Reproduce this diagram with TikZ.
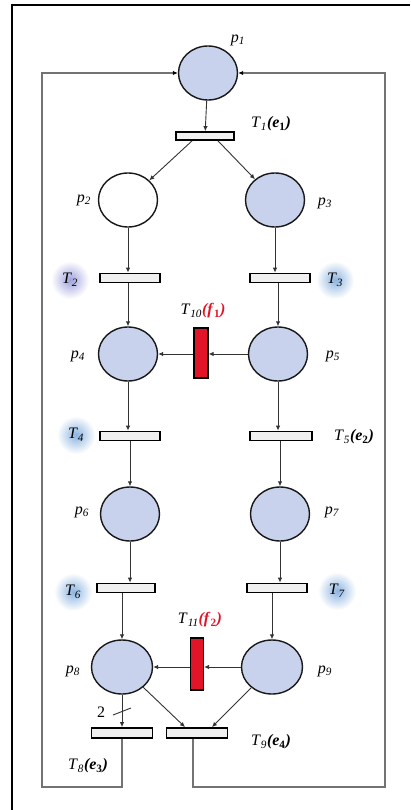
\documentclass[tikz,border=0pt]{standalone}
\usepackage{fontspec}
\setmainfont{Liberation Serif}
\usetikzlibrary{shapes.geometric,arrows.meta}
\definecolor{placefill}{RGB}{200,210,236}
\definecolor{blobA}{RGB}{160,162,220}
\definecolor{blobB}{RGB}{140,180,225}
\definecolor{faultred}{RGB}{225,20,40}
\definecolor{loopgray}{RGB}{115,115,115}
\newcommand{\tl}[2]{\textit{T}\textsubscript{\textit{#1}}\textbf{\textit{(e}\textsubscript{#2}\textit{)}}}
\newcommand{\tf}[2]{\textit{T}\textsubscript{\textit{#1}}\textcolor{faultred}{\textbf{\textit{(f}\textsubscript{#2}\textit{)}}}}
\newcommand{\pl}[1]{\textit{p}\textsubscript{\textit{#1}}}
\begin{document}
\begin{tikzpicture}[x=1pt,y=-1pt,
  place/.style={ellipse,draw=black!90,line width=1.4pt,fill=placefill,minimum width=59pt,minimum height=54pt,inner sep=0pt},
  emptyplace/.style={place,fill=white},
  trans/.style={rectangle,draw=black,line width=1.8pt,fill=black!6,minimum width=60pt,minimum height=9pt,inner sep=0pt},
  fault/.style={rectangle,draw=black,line width=1.3pt,fill=faultred,minimum width=13pt,minimum height=51pt,inner sep=0pt},
  arc/.style={draw=black!80,line width=0.9pt,-{Latex[length=5pt,width=4.5pt]}},
  loopline/.style={draw=loopgray,line width=1.6pt,-{Latex[black,length=5pt,width=4.5pt]}},
  lbl/.style={font=\fontsize{16}{18}\selectfont,inner sep=0pt},
  blob/.style={circle,minimum size=36pt,inner sep=0pt}]
\useasboundingbox (0,0) rectangle (410,810);
\fill[white] (0,0) rectangle (410,810);
% outer frame
\draw[black,line width=2pt] (12,810) -- (12,5) -- (410,5);

% places
\node[place] (p1) at (208,73) {};
\node[emptyplace] (p2) at (128,200) {};
\node[place] (p3) at (275,200) {};
\node[place] (p4) at (128,354) {};
\node[place] (p5) at (278,354) {};
\node[place] (p6) at (130,514) {};
\node[place] (p7) at (280,514) {};
\node[place,minimum width=61pt] (p8) at (122,667) {};
\node[place,minimum width=61pt] (p9) at (272,667) {};

% transitions
\node[trans,minimum width=58pt,minimum height=8pt] (T1) at (205,136) {};
\node[trans] (T2) at (130,278) {};
\node[trans] (T3) at (280,278) {};
\node[trans] (T4) at (130,436) {};
\node[trans,minimum width=62pt] (T5) at (281,436) {};
\node[trans,minimum width=58pt] (T6) at (126,588) {};
\node[trans] (T7) at (277,588) {};
\node[trans,minimum width=61pt,minimum height=10pt] (T8) at (122,733) {};
\node[trans,minimum width=61pt,minimum height=10pt] (T9) at (197,733) {};
\node[fault,minimum width=14pt,minimum height=50pt] (T10) at (201,353) {};
\node[fault,minimum height=52pt] (T11) at (197,664) {};

% blobs with labels
\shade[inner color=blobA,outer color=white] (70,280) circle (19pt);
\node[lbl,blob] (b2) at (70,280) {\textit{T}\textsubscript{\textit{2}}};
\shade[inner color=blobB,outer color=white] (335,280) circle (19pt);
\node[lbl,blob] (b3) at (335,280) {\textit{T}\textsubscript{\textit{3}}};
\shade[inner color=blobB,outer color=white] (76,435) circle (19pt);
\node[lbl,blob] (b4) at (76,435) {\textit{T}\textsubscript{\textit{4}}};
\shade[inner color=blobB,outer color=white] (73,592) circle (19pt);
\node[lbl,blob] (b6) at (73,592) {\textit{T}\textsubscript{\textit{6}}};
\shade[inner color=blobB,outer color=white] (337,591) circle (19pt);
\node[lbl,blob] (b7) at (337,591) {\textit{T}\textsubscript{\textit{7}}};

% labels
\node[lbl] (lp1) at (238,40) {\pl{1}};
\node[lbl] (lp2) at (84,200) {\pl{2}};
\node[lbl] (lp3) at (325,203) {\pl{3}};
\node[lbl] (lp4) at (78,356) {\pl{4}};
\node[lbl] (lp5) at (333,356) {\pl{5}};
\node[lbl] (lp6) at (82,512) {\pl{6}};
\node[lbl] (lp7) at (332,512) {\pl{7}};
\node[lbl] (lp8) at (73,671) {\pl{8}};
\node[lbl] (lp9) at (325,671) {\pl{9}};
\node[lbl] (lT1) at (271,124) {\tl{1}{1}};
\node[lbl] (lT5) at (354,437) {\tl{5}{2}};
\node[lbl] (lT8) at (88,766) {\tl{8}{3}};
\node[lbl] (lT9) at (271,742) {\tl{9}{4}};
\node[lbl] (lT10) at (203,311) {\tf{10}{1}};
\node[lbl] (lT11) at (200,620) {\tf{11}{2}};

% arcs
\draw[arc] (p1) -- (T1);
\draw[arc] ([xshift=-13pt]T1.south) -- (p2);
\draw[arc] ([xshift=13pt]T1.south) -- (p3);
\draw[arc] (p2) -- (p2 |- T2.north);
\draw[arc] (p3) -- (p3 |- T3.north);
\draw[arc] (T2.south -| p4) -- (p4);
\draw[arc] (T3.south -| p5) -- (p5);
\draw[arc] (p5.west) -- (T10.east |- p5.west);
\draw[arc] (T10.west |- p4.east) -- (p4.east);
\draw[arc] (p4) -- (p4 |- T4.north);
\draw[arc] (p5) -- (p5 |- T5.north);
\draw[arc] (T4.south -| p6) -- (p6);
\draw[arc] (T5.south -| p7) -- (p7);
\draw[arc] (p6) -- (p6 |- T6.north);
\draw[arc] (p7) -- (p7 |- T7.north);
\draw[arc] (T6.south -| p8) -- (p8);
\draw[arc] (T7.south -| p9) -- (p9);
\draw[arc] (p9.west) -- (T11.east |- p9.west);
\draw[arc] (T11.west |- p8.east) -- (p8.east);
\draw[arc] (p8) -- (p8 |- T8.north);
\draw[arc] (p8) -- ([xshift=-12pt]T9.north);
\draw[arc] (p9) -- ([xshift=15pt]T9.north);
% weight 2
\node[lbl] (w2) at (101,712) {2};
\draw[black!80,line width=0.9pt] (113,715) -- (131,708);

% loops
\coordinate (cl) at (42,787);
\coordinate (cr) at (385,787);
\draw[loopline] (T8.south) |- (cl) |- (p1.west);
\draw[loopline] ([xshift=-4pt]T9.south) |- (cr) |- (p1.east);
\end{tikzpicture}
\end{document}
